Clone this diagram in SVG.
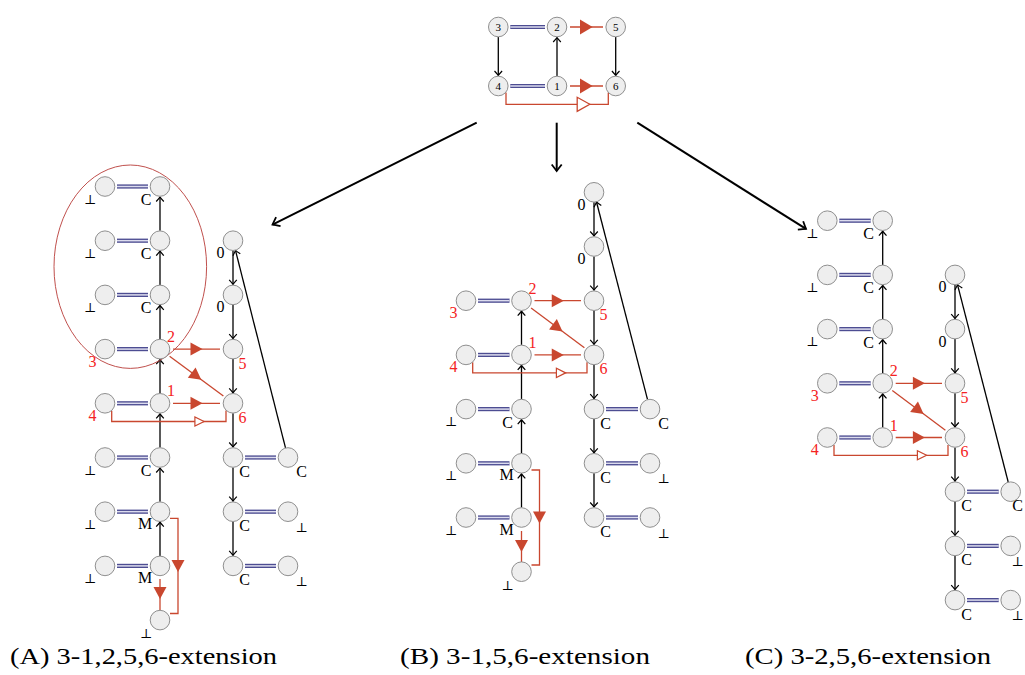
<svg xmlns="http://www.w3.org/2000/svg" width="1025" height="675" viewBox="0 0 1025 675">
<style>
.n{fill:#eeeeee;stroke:#8f8f8f;stroke-width:1}
.dbo{stroke:#4d4d92;stroke-width:4.2;fill:none}
.dbi{stroke:#dcdcee;stroke-width:1.5;fill:none}
.bk{stroke:#000;stroke-width:1.3;fill:none;marker-end:url(#ar)}
.bg{stroke:#000;stroke-width:2;fill:none;marker-end:url(#arB)}
.rd{stroke:#c9472f;stroke-width:1.3;fill:none}
.t{font-family:"Liberation Serif","Times New Roman","DejaVu Serif",serif;font-size:16px;text-anchor:middle;fill:#000}
.b{font-family:"DejaVu Serif","Liberation Serif",serif;font-size:13px;text-anchor:middle;fill:#000}
.r{fill:#f42222}
.s{font-size:11px}
.cap{font-family:"Liberation Serif","Times New Roman","DejaVu Serif",serif;font-size:24px;fill:#000}
</style>
<defs>
<marker id="ar" viewBox="-6 -5 8 10" refX="0" refY="0" markerWidth="8" markerHeight="10" markerUnits="userSpaceOnUse" orient="auto"><path d="M-4.5,-3.8 Q-1.5,-1 0,0 Q-1.5,1 -4.5,3.8" fill="none" stroke="#000" stroke-width="1.2"/></marker>
<marker id="arB" viewBox="-9 -7 11 14" refX="0" refY="0" markerWidth="11" markerHeight="14" markerUnits="userSpaceOnUse" orient="auto"><path d="M-6.5,-5 Q-2,-1.5 0,0 Q-2,1.5 -6.5,5" fill="none" stroke="#000" stroke-width="1.8"/></marker>
<path id="tf" d="M6,0 L-6,-6.5 L-6,6.5 Z" fill="#c9472f"/>
<path id="to" d="M4.6,0 L-4.6,-4.6 L-4.6,4.6 Z" fill="#fff" stroke="#c9472f" stroke-width="1.2"/>
<path id="tfL" d="M6.3,0 L-6.3,-7.5 L-6.3,7.5 Z" fill="#c9472f"/>
<path id="toL" d="M6.3,0 L-6.3,-7 L-6.3,7 Z" fill="#fff" stroke="#c9472f" stroke-width="1.3"/>
</defs>
<rect width="1025" height="675" fill="#fff"/>

<g id="connectors">
<!-- top -->
<path class="dbo" d="M510.3,27H545"/><path class="dbi" d="M510.3,27H545"/>
<path class="dbo" d="M510.3,86H545"/><path class="dbi" d="M510.3,86H545"/>
<path class="bk" d="M498.3,37V75.5"/>
<path class="bk" d="M557,76V37.5"/>
<path class="bk" d="M615.7,37V75.5"/>
<path class="rd" d="M570,27H603"/><use href="#tfL" transform="translate(586.3,27)"/>
<path class="rd" d="M570,86H603"/><use href="#tfL" transform="translate(586.3,86)"/>
<path class="rd" d="M506,92.4V104.3H608.3V92.4"/><use href="#toL" transform="translate(583.5,104.3)"/>
<path class="bg" d="M476.7,122.7L272.5,224.6"/>
<path class="bg" d="M556.7,122.7V171"/>
<path class="bg" d="M637.3,122.7L806,228.9"/>

<!-- panel A -->
<path class="dbo" d="M117,186.5H148"/><path class="dbi" d="M117,186.5H148"/>
<path class="dbo" d="M117,240.7H148"/><path class="dbi" d="M117,240.7H148"/>
<path class="dbo" d="M117,294.9H148"/><path class="dbi" d="M117,294.9H148"/>
<path class="dbo" d="M117,349.1H148"/><path class="dbi" d="M117,349.1H148"/>
<path class="dbo" d="M117,403.3H148"/><path class="dbi" d="M117,403.3H148"/>
<path class="dbo" d="M117,457.5H148"/><path class="dbi" d="M117,457.5H148"/>
<path class="dbo" d="M117,511.7H148"/><path class="dbi" d="M117,511.7H148"/>
<path class="dbo" d="M117,565.9H148"/><path class="dbi" d="M117,565.9H148"/>
<path class="dbo" d="M245,457.5H276"/><path class="dbi" d="M245,457.5H276"/>
<path class="dbo" d="M245,511.7H276"/><path class="dbi" d="M245,511.7H276"/>
<path class="dbo" d="M245,565.9H276"/><path class="dbi" d="M245,565.9H276"/>
<path class="bk" d="M160,230.7V197"/>
<path class="bk" d="M160,284.9V251.2"/>
<path class="bk" d="M160,339.1V305.4"/>
<path class="bk" d="M160,393.3V359.6"/>
<path class="bk" d="M160,447.5V413.8"/>
<path class="bk" d="M160,501.7V468"/>
<path class="bk" d="M160,555.9V522.2"/>
<path class="bk" d="M233,250.7V284.4"/>
<path class="bk" d="M233,304.9V338.6"/>
<path class="bk" d="M233,359.1V392.8"/>
<path class="bk" d="M233,413.3V447"/>
<path class="bk" d="M233,467.5V501.2"/>
<path class="bk" d="M233,521.7V555.4"/>
<path class="bk" d="M285.5,447.8L235.5,250.4"/>
<path class="rd" d="M173,349.1H220"/><use href="#tf" transform="translate(196.5,349.1)"/>
<path class="rd" d="M169.6,356.3L223.4,396.1"/><use href="#tf" transform="translate(196.5,376.2) rotate(36.6)"/>
<path class="rd" d="M173,403.3H220"/><use href="#tf" transform="translate(196.5,403.3)"/>
<path class="rd" d="M111.7,410.7V421.5H226V410.4"/><use href="#to" transform="translate(199.5,421.5)"/>
<path class="rd" d="M170,518.3H178V613.5H170"/><use href="#tf" transform="translate(178,566) rotate(90)"/>
<path class="rd" d="M160,579V610"/><use href="#tf" transform="translate(160,593) rotate(90)"/>

<!-- panel B -->
<path class="dbo" d="M478,300.7H509.5"/><path class="dbi" d="M478,300.7H509.5"/>
<path class="dbo" d="M478,354.9H509.5"/><path class="dbi" d="M478,354.9H509.5"/>
<path class="dbo" d="M478,409.1H509.5"/><path class="dbi" d="M478,409.1H509.5"/>
<path class="dbo" d="M478,463.3H509.5"/><path class="dbi" d="M478,463.3H509.5"/>
<path class="dbo" d="M478,517.5H509.5"/><path class="dbi" d="M478,517.5H509.5"/>
<path class="dbo" d="M606,409.1H638"/><path class="dbi" d="M606,409.1H638"/>
<path class="dbo" d="M606,463.3H638"/><path class="dbi" d="M606,463.3H638"/>
<path class="dbo" d="M606,517.5H638"/><path class="dbi" d="M606,517.5H638"/>
<path class="bk" d="M521.5,344.9V311.2"/>
<path class="bk" d="M521.5,399.1V365.4"/>
<path class="bk" d="M521.5,453.3V419.6"/>
<path class="bk" d="M521.5,507.5V473.8"/>
<path class="bk" d="M594,202.3V236"/>
<path class="bk" d="M594,256.5V290.2"/>
<path class="bk" d="M594,310.7V344.4"/>
<path class="bk" d="M594,364.9V398.6"/>
<path class="bk" d="M594,419.1V452.8"/>
<path class="bk" d="M594,473.3V507"/>
<path class="bk" d="M647.5,399.4L596.5,202"/>
<path class="rd" d="M534.5,300.7H581"/><use href="#tf" transform="translate(557.75,300.7)"/>
<path class="rd" d="M531.1,307.9L584.4,347.7"/><use href="#tf" transform="translate(557.75,327.8) rotate(36.8)"/>
<path class="rd" d="M534.5,354.9H581"/><use href="#tf" transform="translate(557.75,354.9)"/>
<path class="rd" d="M472.7,362.3V372.9H587V362.3"/><use href="#to" transform="translate(561,372.9)"/>
<path class="rd" d="M531.5,470H539.5V565H531.5"/><use href="#tf" transform="translate(539.5,517.5) rotate(90)"/>
<path class="rd" d="M521.5,531V562"/><use href="#tf" transform="translate(521.5,546) rotate(90)"/>

<!-- panel C -->
<path class="dbo" d="M839.3,220.7H870.7"/><path class="dbi" d="M839.3,220.7H870.7"/>
<path class="dbo" d="M839.3,274.9H870.7"/><path class="dbi" d="M839.3,274.9H870.7"/>
<path class="dbo" d="M839.3,329.1H870.7"/><path class="dbi" d="M839.3,329.1H870.7"/>
<path class="dbo" d="M839.3,383.3H870.7"/><path class="dbi" d="M839.3,383.3H870.7"/>
<path class="dbo" d="M839.3,437.5H870.7"/><path class="dbi" d="M839.3,437.5H870.7"/>
<path class="dbo" d="M967,491.7H998.7"/><path class="dbi" d="M967,491.7H998.7"/>
<path class="dbo" d="M967,545.9H998.7"/><path class="dbi" d="M967,545.9H998.7"/>
<path class="dbo" d="M967,600.1H998.7"/><path class="dbi" d="M967,600.1H998.7"/>
<path class="bk" d="M882.7,264.9V231.2"/>
<path class="bk" d="M882.7,319.1V285.4"/>
<path class="bk" d="M882.7,373.3V339.6"/>
<path class="bk" d="M882.7,427.5V393.8"/>
<path class="bk" d="M955,284.9V318.6"/>
<path class="bk" d="M955,339.1V372.8"/>
<path class="bk" d="M955,393.3V427"/>
<path class="bk" d="M955,447.5V481.2"/>
<path class="bk" d="M955,501.7V535.4"/>
<path class="bk" d="M955,555.9V589.6"/>
<path class="bk" d="M1008.2,482L957.5,284.6"/>
<path class="rd" d="M895.7,383.3H942"/><use href="#tf" transform="translate(918.85,383.3)"/>
<path class="rd" d="M892.3,390.5L945.4,430.3"/><use href="#tf" transform="translate(918.85,410.4) rotate(36.9)"/>
<path class="rd" d="M895.7,437.5H942"/><use href="#tf" transform="translate(918.85,437.5)"/>
<path class="rd" d="M834,444.9V455.3H948V444.9"/><use href="#to" transform="translate(922,455.3)"/>
</g>

<g id="highlight"><ellipse cx="130.3" cy="266.7" rx="76.3" ry="101.7" fill="none" stroke="#c0504d" stroke-width="1"/></g>

<!-- top nodes -->
<g id="top-3"><circle class="n" cx="498.3" cy="27" r="9.8"/><text class="t s" x="498.3" y="30.8">3</text></g>
<g id="top-2"><circle class="n" cx="557" cy="27" r="9.8"/><text class="t s" x="557" y="30.8">2</text></g>
<g id="top-5"><circle class="n" cx="615.7" cy="27" r="9.8"/><text class="t s" x="615.7" y="30.8">5</text></g>
<g id="top-4"><circle class="n" cx="498.3" cy="86" r="9.8"/><text class="t s" x="498.3" y="89.8">4</text></g>
<g id="top-1"><circle class="n" cx="557" cy="86" r="9.8"/><text class="t s" x="557" y="89.8">1</text></g>
<g id="top-6"><circle class="n" cx="615.7" cy="86" r="9.8"/><text class="t s" x="615.7" y="89.8">6</text></g>

<!-- panel A nodes -->
<g id="a-L0"><circle class="n" cx="105" cy="186.5" r="9.8"/><text class="b" x="90" y="203.5">⊥</text></g>
<g id="a-L1"><circle class="n" cx="105" cy="240.7" r="9.8"/><text class="b" x="90" y="257.7">⊥</text></g>
<g id="a-L2"><circle class="n" cx="105" cy="294.9" r="9.8"/><text class="b" x="90" y="311.9">⊥</text></g>
<g id="a-L3"><circle class="n" cx="105" cy="349.1" r="9.8"/><text class="t r" x="92.5" y="366.6">3</text></g>
<g id="a-L4"><circle class="n" cx="105" cy="403.3" r="9.8"/><text class="t r" x="92.5" y="420.8">4</text></g>
<g id="a-L5"><circle class="n" cx="105" cy="457.5" r="9.8"/><text class="b" x="90" y="474.5">⊥</text></g>
<g id="a-L6"><circle class="n" cx="105" cy="511.7" r="9.8"/><text class="b" x="90" y="528.7">⊥</text></g>
<g id="a-L7"><circle class="n" cx="105" cy="565.9" r="9.8"/><text class="b" x="90" y="582.9">⊥</text></g>
<g id="a-M0"><circle class="n" cx="160" cy="186.5" r="9.8"/><text class="t" x="146" y="205">C</text></g>
<g id="a-M1"><circle class="n" cx="160" cy="240.7" r="9.8"/><text class="t" x="146" y="259.2">C</text></g>
<g id="a-M2"><circle class="n" cx="160" cy="294.9" r="9.8"/><text class="t" x="146" y="313.4">C</text></g>
<g id="a-M3"><circle class="n" cx="160" cy="349.1" r="9.8"/><text class="t r" x="171" y="342.1">2</text></g>
<g id="a-M4"><circle class="n" cx="160" cy="403.3" r="9.8"/><text class="t r" x="171" y="396.3">1</text></g>
<g id="a-M5"><circle class="n" cx="160" cy="457.5" r="9.8"/><text class="t" x="146" y="476">C</text></g>
<g id="a-M6"><circle class="n" cx="160" cy="511.7" r="9.8"/><text class="t" x="145" y="528.7">M</text></g>
<g id="a-M7"><circle class="n" cx="160" cy="565.9" r="9.8"/><text class="t" x="145" y="582.9">M</text></g>
<g id="a-M8"><circle class="n" cx="160" cy="620.1" r="9.8"/><text class="b" x="146" y="638.1">⊥</text></g>
<g id="a-R1"><circle class="n" cx="233" cy="240.7" r="9.8"/><text class="t" x="220.5" y="258.2">0</text></g>
<g id="a-R2"><circle class="n" cx="233" cy="294.9" r="9.8"/><text class="t" x="220.5" y="312.4">0</text></g>
<g id="a-R3"><circle class="n" cx="233" cy="349.1" r="9.8"/><text class="t r" x="242.5" y="368.6">5</text></g>
<g id="a-R4"><circle class="n" cx="233" cy="403.3" r="9.8"/><text class="t r" x="242.5" y="422.8">6</text></g>
<g id="a-R5"><circle class="n" cx="233" cy="457.5" r="9.8"/><text class="t" x="244.5" y="477">C</text></g>
<g id="a-R6"><circle class="n" cx="233" cy="511.7" r="9.8"/><text class="t" x="244.5" y="531.2">C</text></g>
<g id="a-R7"><circle class="n" cx="233" cy="565.9" r="9.8"/><text class="t" x="244.5" y="585.4">C</text></g>
<g id="a-F5"><circle class="n" cx="288" cy="457.5" r="9.8"/><text class="t" x="301.5" y="477">C</text></g>
<g id="a-F6"><circle class="n" cx="288" cy="511.7" r="9.8"/><text class="b" x="301.5" y="531.7">⊥</text></g>
<g id="a-F7"><circle class="n" cx="288" cy="565.9" r="9.8"/><text class="b" x="301.5" y="585.9">⊥</text></g>

<!-- panel B nodes -->
<g id="b-L2"><circle class="n" cx="466" cy="300.7" r="9.8"/><text class="t r" x="453.5" y="318.2">3</text></g>
<g id="b-L3"><circle class="n" cx="466" cy="354.9" r="9.8"/><text class="t r" x="453.5" y="372.4">4</text></g>
<g id="b-L4"><circle class="n" cx="466" cy="409.1" r="9.8"/><text class="b" x="451" y="426.1">⊥</text></g>
<g id="b-L5"><circle class="n" cx="466" cy="463.3" r="9.8"/><text class="b" x="451" y="480.3">⊥</text></g>
<g id="b-L6"><circle class="n" cx="466" cy="517.5" r="9.8"/><text class="b" x="451" y="534.5">⊥</text></g>
<g id="b-M2"><circle class="n" cx="521.5" cy="300.7" r="9.8"/><text class="t r" x="532.5" y="293.7">2</text></g>
<g id="b-M3"><circle class="n" cx="521.5" cy="354.9" r="9.8"/><text class="t r" x="532.5" y="347.9">1</text></g>
<g id="b-M4"><circle class="n" cx="521.5" cy="409.1" r="9.8"/><text class="t" x="507.5" y="427.6">C</text></g>
<g id="b-M5"><circle class="n" cx="521.5" cy="463.3" r="9.8"/><text class="t" x="506.5" y="480.3">M</text></g>
<g id="b-M6"><circle class="n" cx="521.5" cy="517.5" r="9.8"/><text class="t" x="506.5" y="534.5">M</text></g>
<g id="b-M7"><circle class="n" cx="521.5" cy="571.7" r="9.8"/><text class="b" x="507.5" y="589.7">⊥</text></g>
<g id="b-R0"><circle class="n" cx="594" cy="192.3" r="9.8"/><text class="t" x="581.5" y="209.8">0</text></g>
<g id="b-R1"><circle class="n" cx="594" cy="246.5" r="9.8"/><text class="t" x="581.5" y="264">0</text></g>
<g id="b-R2"><circle class="n" cx="594" cy="300.7" r="9.8"/><text class="t r" x="603.5" y="320.2">5</text></g>
<g id="b-R3"><circle class="n" cx="594" cy="354.9" r="9.8"/><text class="t r" x="603.5" y="374.4">6</text></g>
<g id="b-R4"><circle class="n" cx="594" cy="409.1" r="9.8"/><text class="t" x="605.5" y="428.6">C</text></g>
<g id="b-R5"><circle class="n" cx="594" cy="463.3" r="9.8"/><text class="t" x="605.5" y="482.8">C</text></g>
<g id="b-R6"><circle class="n" cx="594" cy="517.5" r="9.8"/><text class="t" x="605.5" y="537">C</text></g>
<g id="b-F4"><circle class="n" cx="650" cy="409.1" r="9.8"/><text class="t" x="663.5" y="428.6">C</text></g>
<g id="b-F5"><circle class="n" cx="650" cy="463.3" r="9.8"/><text class="b" x="663.5" y="483.3">⊥</text></g>
<g id="b-F6"><circle class="n" cx="650" cy="517.5" r="9.8"/><text class="b" x="663.5" y="537.5">⊥</text></g>

<!-- panel C nodes -->
<g id="c-L0"><circle class="n" cx="827.3" cy="220.7" r="9.8"/><text class="b" x="812.3" y="237.7">⊥</text></g>
<g id="c-L1"><circle class="n" cx="827.3" cy="274.9" r="9.8"/><text class="b" x="812.3" y="291.9">⊥</text></g>
<g id="c-L2"><circle class="n" cx="827.3" cy="329.1" r="9.8"/><text class="b" x="812.3" y="346.1">⊥</text></g>
<g id="c-L3"><circle class="n" cx="827.3" cy="383.3" r="9.8"/><text class="t r" x="814.8" y="400.8">3</text></g>
<g id="c-L4"><circle class="n" cx="827.3" cy="437.5" r="9.8"/><text class="t r" x="814.8" y="455">4</text></g>
<g id="c-M0"><circle class="n" cx="882.7" cy="220.7" r="9.8"/><text class="t" x="868.7" y="239.2">C</text></g>
<g id="c-M1"><circle class="n" cx="882.7" cy="274.9" r="9.8"/><text class="t" x="868.7" y="293.4">C</text></g>
<g id="c-M2"><circle class="n" cx="882.7" cy="329.1" r="9.8"/><text class="t" x="868.7" y="347.6">C</text></g>
<g id="c-M3"><circle class="n" cx="882.7" cy="383.3" r="9.8"/><text class="t r" x="893.7" y="376.3">2</text></g>
<g id="c-M4"><circle class="n" cx="882.7" cy="437.5" r="9.8"/><text class="t r" x="893.7" y="430.5">1</text></g>
<g id="c-R1"><circle class="n" cx="955" cy="274.9" r="9.8"/><text class="t" x="942.5" y="292.4">0</text></g>
<g id="c-R2"><circle class="n" cx="955" cy="329.1" r="9.8"/><text class="t" x="942.5" y="346.6">0</text></g>
<g id="c-R3"><circle class="n" cx="955" cy="383.3" r="9.8"/><text class="t r" x="964.5" y="402.8">5</text></g>
<g id="c-R4"><circle class="n" cx="955" cy="437.5" r="9.8"/><text class="t r" x="964.5" y="457">6</text></g>
<g id="c-R5"><circle class="n" cx="955" cy="491.7" r="9.8"/><text class="t" x="966.5" y="511.2">C</text></g>
<g id="c-R6"><circle class="n" cx="955" cy="545.9" r="9.8"/><text class="t" x="966.5" y="565.4">C</text></g>
<g id="c-R7"><circle class="n" cx="955" cy="600.1" r="9.8"/><text class="t" x="966.5" y="619.6">C</text></g>
<g id="c-F5"><circle class="n" cx="1010.7" cy="491.7" r="9.8"/><text class="t" x="1017.5" y="511.2">C</text></g>
<g id="c-F6"><circle class="n" cx="1010.7" cy="545.9" r="9.8"/><text class="b" x="1017.5" y="565.9">⊥</text></g>
<g id="c-F7"><circle class="n" cx="1010.7" cy="600.1" r="9.8"/><text class="b" x="1017.5" y="620.1">⊥</text></g>

<g id="captions">
<text class="cap" x="10" y="664" textLength="267" lengthAdjust="spacingAndGlyphs">(A) 3-1,2,5,6-extension</text>
<text class="cap" x="400" y="664" textLength="250" lengthAdjust="spacingAndGlyphs">(B) 3-1,5,6-extension</text>
<text class="cap" x="745" y="664" textLength="246" lengthAdjust="spacingAndGlyphs">(C) 3-2,5,6-extension</text>
</g>
</svg>
